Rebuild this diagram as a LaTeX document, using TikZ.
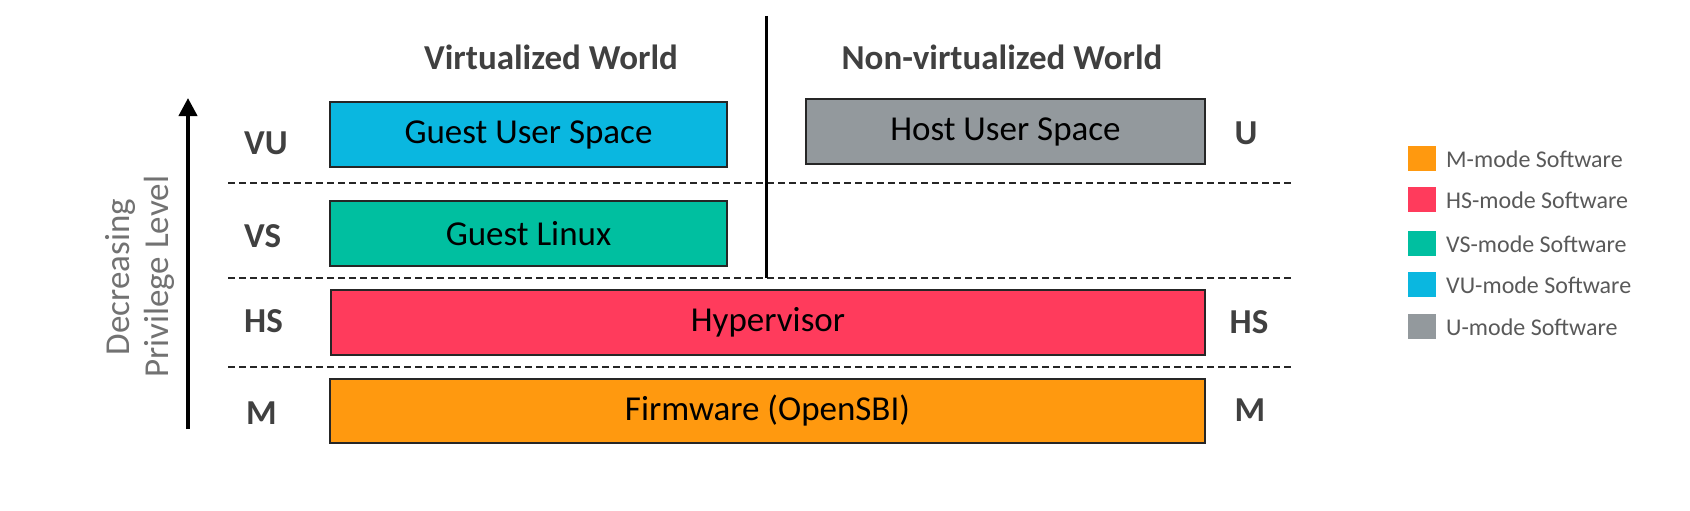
\documentclass[tikz,border=0pt]{standalone}
\usepackage{fontspec}
\setmainfont{Carlito}
\usetikzlibrary{arrows.meta}
\definecolor{cyanbox}{RGB}{10,183,224}
\definecolor{tealbox}{RGB}{0,191,160}
\definecolor{redbox}{RGB}{255,59,92}
\definecolor{orangebox}{RGB}{255,153,15}
\definecolor{graybox}{RGB}{147,153,157}
\definecolor{labeltext}{RGB}{64,64,64}
\definecolor{legendtext}{RGB}{89,89,89}
\begin{document}
\begin{tikzpicture}[x=1pt,y=-1pt,
  swbox/.style={draw=black!85, line width=2pt, anchor=north west, inner sep=0pt,
    font=\fontsize{35}{42}\selectfont, text=black},
  lvl/.style={font=\fontsize{35}{42}\selectfont\bfseries, text=labeltext, inner sep=0pt},
  world/.style={font=\fontsize{35}{42}\selectfont\bfseries, text=labeltext, inner sep=0pt},
  sep/.style={dashed, dash pattern=on 7pt off 4pt, line width=2pt, black!85},
  legsq/.style={minimum width=28pt, minimum height=25pt, inner sep=0pt},
  legtxt/.style={anchor=west, font=\fontsize{24}{28}\selectfont, text=legendtext, inner sep=0pt},
  rottxt/.style={rotate=90, font=\fontsize{35}{42}\selectfont, text=legendtext!85, inner sep=0pt}]
\useasboundingbox (0,0) rectangle (1690,511);

% separators
\draw[sep] (228,183) -- (1293,183);
\draw[sep] (228,278) -- (1293,278);
\draw[sep] (228,367) -- (1293,367);

% world divider
\coordinate (divtop) at (766,16);
\coordinate (divbot) at (766,278);
\draw[line width=3pt] (divtop) -- (divbot);

% headings
\node[world] (vw) at (551,57) {Virtualized World};
\node[world] (nvw) at (1002,57) {Non-virtualized World};

% boxes
\node[swbox, fill=cyanbox, minimum width=397pt, minimum height=65pt] (gus) at (329,101) {};
\node[font=\fontsize{35}{42}\selectfont] at (gus.center) {Guest User Space};
\node[swbox, fill=graybox, minimum width=399pt, minimum height=65pt] (hus) at (805,98) {};
\node[font=\fontsize{35}{42}\selectfont] at (hus.center) {Host User Space};
\node[swbox, fill=tealbox, minimum width=397pt, minimum height=65pt] (gl) at (329,200) {};
\node[font=\fontsize{35}{42}\selectfont] at (gl.center) {Guest Linux};
\node[swbox, fill=redbox, minimum width=874pt, minimum height=65pt] (hv) at (330,289) {};
\node[font=\fontsize{35}{42}\selectfont] at (hv.center) {Hypervisor};
\node[swbox, fill=orangebox, minimum width=875pt, minimum height=64pt] (fw) at (329,378) {};
\node[font=\fontsize{35}{42}\selectfont] at (fw.center) {Firmware (OpenSBI)};

% level labels left
\node[lvl, anchor=west] (lvu) at (244,143) {VU};
\node[lvl, anchor=west] (lvs) at (244,236) {VS};
\node[lvl, anchor=west] (lhs) at (244,321) {HS};
\node[lvl, anchor=west] (lm) at (246,413) {M};
% level labels right
\node[lvl] (ru) at (1246,133) {U};
\node[lvl] (rhs) at (1249,322) {HS};
\node[lvl] (rm) at (1250,410) {M};

% privilege arrow
\coordinate (arrbot) at (188,429);
\coordinate (arrtop) at (188,98);
\draw[line width=4pt, -{Triangle[width=18pt,length=18pt]}] (arrbot) -- (arrtop);
\node[rottxt] (dec) at (120,277) {Decreasing};
\node[rottxt] (priv) at (159,277) {Privilege Level};

% legend
\node[legsq, fill=orangebox] (sqm) at (1422,158) {};
\node[legtxt] (tm) at (1446,159) {M-mode Software};
\node[legsq, fill=redbox] (sqhs) at (1422,199) {};
\node[legtxt] (ths) at (1446,200) {HS-mode Software};
\node[legsq, fill=tealbox] (sqvs) at (1422,243) {};
\node[legtxt] (tvs) at (1446,244) {VS-mode Software};
\node[legsq, fill=cyanbox] (sqvu) at (1422,284) {};
\node[legtxt] (tvu) at (1446,285) {VU-mode Software};
\node[legsq, fill=graybox] (squ) at (1422,326) {};
\node[legtxt] (tu) at (1446,327) {U-mode Software};
\end{tikzpicture}
\end{document}
